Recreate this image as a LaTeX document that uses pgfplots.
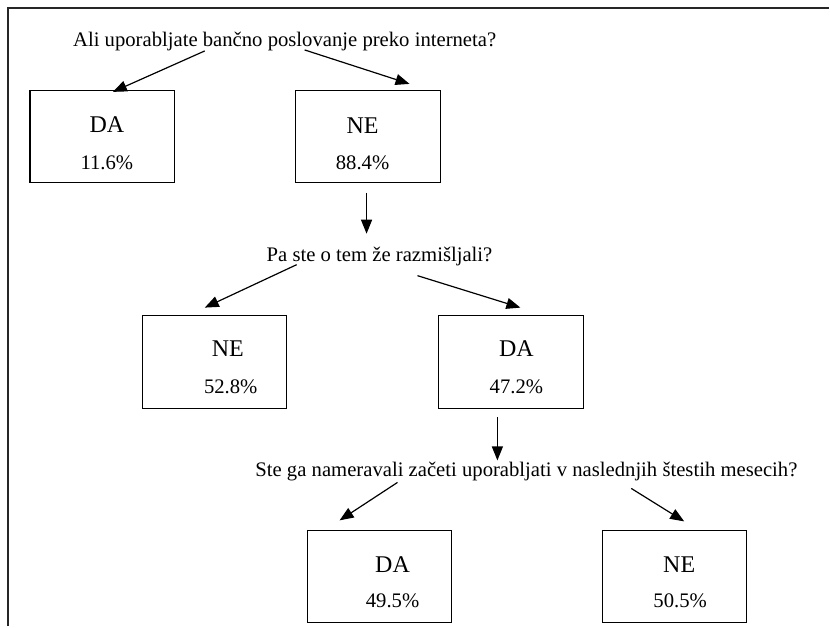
\documentclass[border=0pt]{standalone}
\usepackage{fontspec}
\setmainfont{Liberation Serif}
\usepackage{pgfplots}
\pgfplotsset{compat=1.18}
\usetikzlibrary{arrows.meta}
\tikzset{
  txt/.style={anchor=base, inner sep=0pt, font=\fontsize{20.7}{25}\selectfont},
  lab/.style={anchor=base, inner sep=0pt, font=\fontsize{24}{28}\selectfont},
  arr/.style={line width=1.2pt, -{Triangle[length=14pt,width=11pt]}},
  box/.style={line width=1.2pt},
}
\begin{document}
\begin{tikzpicture}
\begin{axis}[
  scale only axis, width=830pt, height=627pt,
  xmin=0, xmax=830, ymin=0, ymax=627, y dir=reverse,
  hide axis, clip=false,
]
\path (axis cs:0,0) rectangle (axis cs:830,627);
% frame
\draw[line width=2pt, black!85] (axis cs:8.5,627) -- (axis cs:8.5,8.5) -- (axis cs:830,8.5);
% level 1
\node[txt] at (axis cs:285,47) {Ali uporabljate bančno poslovanje preko interneta?};
\draw[arr] (axis cs:205,51) -- (axis cs:113,92);
\draw[arr] (axis cs:305,50) -- (axis cs:410,84);
\draw[box] (axis cs:30,91) rectangle (axis cs:175,183);
\node[lab] at (axis cs:107,133) {DA};
\node[txt] at (axis cs:107,170) {11.6\%};
\draw[box] (axis cs:296,91) rectangle (axis cs:441,183);
\node[lab] at (axis cs:363,134) {NE};
\node[txt] at (axis cs:363,170) {88.4\%};
% level 2
\draw[arr] (axis cs:367,193) -- (axis cs:367,234);
\node[txt] at (axis cs:380,262) {Pa ste o tem že razmišljali?};
\draw[arr] (axis cs:297,265) -- (axis cs:205,308);
\draw[arr] (axis cs:418,276) -- (axis cs:521,308);
\draw[box] (axis cs:143,316) rectangle (axis cs:287,409);
\node[lab] at (axis cs:228,357) {NE};
\node[txt] at (axis cs:231,394) {52.8\%};
\draw[box] (axis cs:439,316) rectangle (axis cs:584,409);
\node[lab] at (axis cs:517,357) {DA};
\node[txt] at (axis cs:517,394) {47.2\%};
% level 3
\draw[arr] (axis cs:498,418) -- (axis cs:498,461);
\node[txt] at (axis cs:527,477) {Ste ga nameravali začeti uporabljati v naslednjih štestih mesecih?};
\draw[arr] (axis cs:398,483) -- (axis cs:340,521);
\draw[arr] (axis cs:632,489) -- (axis cs:685,522);
\draw[box] (axis cs:308,531) rectangle (axis cs:452,623);
\node[lab] at (axis cs:393,573) {DA};
\node[txt] at (axis cs:393,608) {49.5\%};
\draw[box] (axis cs:603,531) rectangle (axis cs:747,623);
\node[lab] at (axis cs:680,573) {NE};
\node[txt] at (axis cs:681,608) {50.5\%};
\end{axis}
\end{tikzpicture}
\end{document}
